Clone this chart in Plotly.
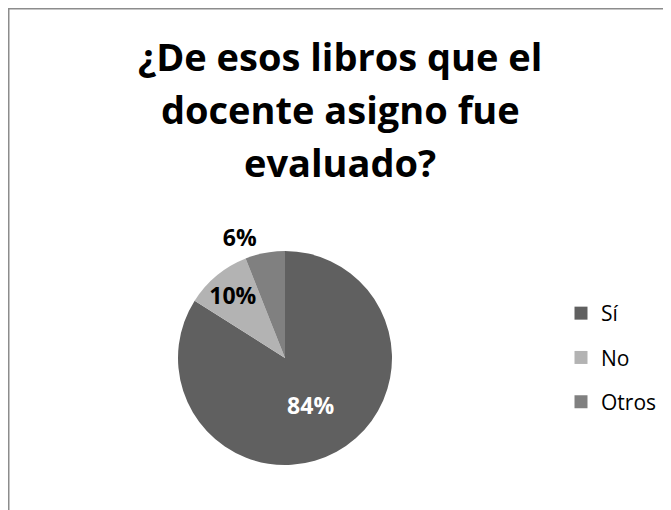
import plotly.graph_objects as go

# data
labels = ["Sí", "No", "Otros"]
values = [84, 10, 6]
colors = ["#606060", "#B3B3B3", "#808080"]
title_lines = ["¿De esos libros que el", "docente asigno fue", "evaluado?"]

W, H = 671, 510
OFF = 8  # page body margin, the figure is drawn 8px down/right
FONT = "Open Sans"


def px(x):
    return (x - OFF) / W


def py(y):
    return 1 - (y - OFF) / H


fig = go.Figure()

fig.add_trace(go.Pie(
    labels=labels,
    values=values,
    sort=False,
    direction="clockwise",
    rotation=0,
    marker=dict(colors=colors, line=dict(width=0)),
    texttemplate="<b>%{percent:.0%}</b>",
    textposition=["inside", "inside", "outside"],
    insidetextorientation="horizontal",
    textfont=dict(family=FONT, size=23, color=["white", "black", "black"]),
    outsidetextfont=dict(family=FONT, size=23, color="black"),
    showlegend=False,
    hoverinfo="label+percent",
    domain=dict(x=[px(178), px(392)], y=[py(465), py(251)]),
))

# legend entries (square swatches, spaced like the original)
for i, (lab, col) in enumerate(zip(labels, colors)):
    fig.add_trace(go.Scatter(
        x=[None], y=[None], mode="markers", name=lab,
        marker=dict(symbol="square", size=13, color=col),
        legendgroup=str(i), showlegend=True,
    ))

# title, one annotation per line to keep the wide line spacing
for i, line in enumerate(title_lines):
    fig.add_annotation(
        text="<b>" + line + "</b>", xref="paper", yref="paper",
        x=px(340), y=py(56 + 53 * i), xanchor="center", yanchor="middle",
        showarrow=False, font=dict(family=FONT, size=38, color="black"),
    )

# chart border
fig.add_shape(type="rect", xref="paper", yref="paper",
              x0=0.75 / W, x1=1.2, y0=-0.2, y1=1 - 0.75 / H,
              line=dict(color="#8C8C8C", width=1.5), fillcolor="rgba(0,0,0,0)")

fig.update_layout(
    width=W, height=H,
    margin=dict(l=0, r=0, t=0, b=0),
    paper_bgcolor="white", plot_bgcolor="white",
    xaxis=dict(visible=False), yaxis=dict(visible=False),
    uniformtext=dict(minsize=23, mode="show"),
    legend=dict(x=px(561), y=py(293), xanchor="left", yanchor="top",
                font=dict(family=FONT, size=21, color="black"),
                tracegroupgap=14, bgcolor="rgba(0,0,0,0)"),
)

fig.write_html("out.html")
